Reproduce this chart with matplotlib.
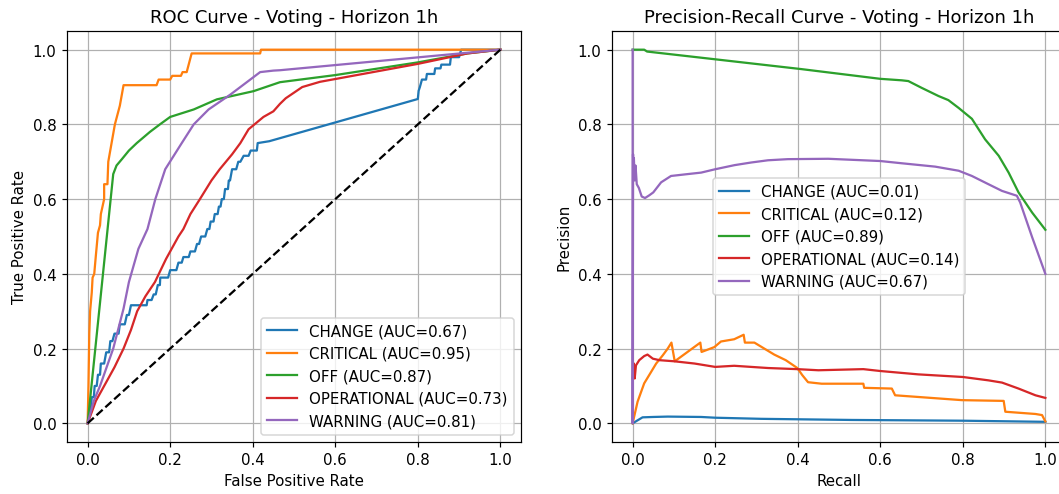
import matplotlib
matplotlib.use("Agg")
import matplotlib.pyplot as plt

classes = ["CHANGE", "CRITICAL", "OFF", "OPERATIONAL", "WARNING"]
roc_auc = [0.67, 0.95, 0.87, 0.73, 0.81]
pr_auc = [0.01, 0.12, 0.89, 0.14, 0.67]

# ---------------- ROC data ----------------
change_fpr = [0, 0.005, 0.008, 0.01, 0.015, 0.017, 0.022, 0.025, 0.03, 0.032, 0.04, 0.045, 0.052, 0.055, 0.06,
              0.065, 0.075, 0.078, 0.09, 0.095, 0.1, 0.105, 0.143, 0.145, 0.155, 0.16, 0.165, 0.17, 0.175, 0.176,
              0.195, 0.2, 0.215, 0.22, 0.228, 0.232, 0.245, 0.249, 0.26, 0.265, 0.27, 0.275, 0.285, 0.29, 0.295,
              0.298, 0.305, 0.308, 0.315, 0.318, 0.322, 0.325, 0.33, 0.333, 0.34, 0.342, 0.345, 0.35, 0.36, 0.365,
              0.37, 0.378, 0.39, 0.395, 0.41, 0.412, 0.44, 0.8, 0.802, 0.805, 0.81, 0.82, 0.822, 0.84, 0.842,
              0.855, 0.857, 0.878, 0.88, 0.9, 0.905, 1.0]
change_tpr = [0, 0.04, 0.04, 0.07, 0.07, 0.1, 0.1, 0.13, 0.13, 0.16, 0.16, 0.19, 0.19, 0.22, 0.22,
              0.24, 0.24, 0.265, 0.265, 0.29, 0.29, 0.316, 0.316, 0.33, 0.33, 0.345, 0.345, 0.37, 0.37, 0.39,
              0.39, 0.41, 0.41, 0.43, 0.43, 0.445, 0.445, 0.46, 0.46, 0.48, 0.48, 0.5, 0.5, 0.52, 0.52,
              0.54, 0.54, 0.56, 0.56, 0.58, 0.58, 0.6, 0.6, 0.627, 0.627, 0.65, 0.65, 0.68, 0.68, 0.7,
              0.7, 0.716, 0.716, 0.73, 0.73, 0.75, 0.755, 0.868, 0.89, 0.9, 0.92, 0.92, 0.935, 0.935, 0.95,
              0.95, 0.96, 0.96, 0.98, 0.98, 1.0, 1.0]

critical_fpr = [0, 0.002, 0.004, 0.006, 0.01, 0.012, 0.016, 0.02, 0.025, 0.03, 0.032, 0.04, 0.04, 0.048, 0.05,
                0.058, 0.066, 0.078, 0.087, 0.167, 0.172, 0.2, 0.205, 0.226, 0.23, 0.24, 0.252, 0.418, 0.42, 1.0]
critical_tpr = [0, 0.1, 0.24, 0.3, 0.35, 0.39, 0.4, 0.45, 0.51, 0.53, 0.56, 0.6, 0.64, 0.64, 0.7,
                0.75, 0.8, 0.85, 0.905, 0.905, 0.92, 0.92, 0.93, 0.93, 0.94, 0.94, 0.99, 0.99, 1.0, 1.0]

off_fpr = [0, 0.062, 0.07, 0.083, 0.1, 0.119, 0.135, 0.151, 0.175, 0.2, 0.257, 0.313, 0.402, 0.466, 0.6, 0.8, 0.92, 1.0]
off_tpr = [0, 0.667, 0.69, 0.707, 0.73, 0.75, 0.765, 0.78, 0.8, 0.82, 0.84, 0.867, 0.889, 0.913, 0.932, 0.966, 0.99, 1.0]

oper_fpr = [0, 0.02, 0.045, 0.065, 0.087, 0.105, 0.12, 0.14, 0.163, 0.19, 0.205, 0.22, 0.232, 0.249, 0.272, 0.3,
            0.32, 0.35, 0.37, 0.39, 0.426, 0.45, 0.466, 0.48, 0.5, 0.52, 0.563, 0.8, 0.92, 1.0]
oper_tpr = [0, 0.06, 0.11, 0.15, 0.2, 0.25, 0.3, 0.34, 0.378, 0.44, 0.47, 0.5, 0.52, 0.56, 0.6, 0.65,
            0.68, 0.72, 0.75, 0.787, 0.82, 0.835, 0.855, 0.87, 0.885, 0.9, 0.914, 0.962, 0.99, 1.0]

warn_fpr = [0, 0.015, 0.03, 0.062, 0.087, 0.1, 0.123, 0.145, 0.164, 0.188, 0.228, 0.257, 0.293, 0.346, 0.394, 0.418, 0.45, 0.466, 1.0]
warn_tpr = [0, 0.06, 0.1, 0.2, 0.307, 0.378, 0.467, 0.52, 0.6, 0.68, 0.75, 0.8, 0.84, 0.88, 0.92, 0.94, 0.944, 0.945, 1.0]

# ---------------- PR data ----------------
change_rec = [0, 0.024, 0.05, 0.085, 0.166, 0.2, 0.312, 0.531, 0.8, 1.0]
change_prec = [0, 0.016, 0.017, 0.018, 0.017, 0.015, 0.012, 0.009, 0.007, 0.004]

critical_rec = [0, 0.012, 0.028, 0.045, 0.057, 0.073, 0.085, 0.094, 0.102, 0.133, 0.164, 0.167, 0.198, 0.214,
                0.246, 0.269, 0.272, 0.295, 0.319, 0.343, 0.371, 0.399, 0.411, 0.425, 0.458, 0.559, 0.561, 0.628,
                0.636, 0.798, 0.899, 0.903, 0.976, 0.992, 1.0]
critical_prec = [0, 0.058, 0.107, 0.138, 0.16, 0.182, 0.2, 0.216, 0.166, 0.191, 0.216, 0.191, 0.204, 0.219,
                 0.225, 0.237, 0.216, 0.216, 0.2, 0.184, 0.169, 0.148, 0.129, 0.11, 0.106, 0.106, 0.095, 0.093,
                 0.075, 0.062, 0.06, 0.031, 0.025, 0.022, 0.005]

off_rec = [0, 0.028, 0.035, 0.409, 0.6, 0.652, 0.668, 0.7, 0.741, 0.765, 0.79, 0.822, 0.854, 0.887, 0.911, 0.935, 0.968, 1.0]
off_prec = [1.0, 1.0, 0.995, 0.948, 0.922, 0.918, 0.916, 0.898, 0.876, 0.865, 0.844, 0.815, 0.76, 0.716, 0.671, 0.618, 0.564, 0.518]

oper_rec = [0, 0.003, 0.005, 0.008, 0.016, 0.028, 0.036, 0.049, 0.065, 0.101, 0.15, 0.2, 0.246, 0.328, 0.399,
            0.45, 0.559, 0.6, 0.692, 0.8, 0.862, 0.895, 0.935, 0.976, 1.0]
oper_prec = [0.12, 0.16, 0.12, 0.155, 0.169, 0.18, 0.184, 0.173, 0.169, 0.166, 0.16, 0.151, 0.154, 0.148, 0.145,
             0.142, 0.145, 0.14, 0.131, 0.124, 0.115, 0.109, 0.093, 0.075, 0.068]

warn_rec = [0, 0, 0.001, 0.002, 0.003, 0.005, 0.007, 0.01, 0.015, 0.022, 0.03, 0.04, 0.05, 0.069, 0.093, 0.133,
            0.166, 0.2, 0.247, 0.287, 0.328, 0.376, 0.474, 0.6, 0.652, 0.733, 0.79, 0.822, 0.862, 0.895, 0.931,
            0.939, 0.968, 1.0]
warn_prec = [1.0, 0, 0.72, 0.66, 0.71, 0.65, 0.69, 0.64, 0.63, 0.607, 0.603, 0.61, 0.618, 0.645, 0.662, 0.667,
             0.671, 0.68, 0.691, 0.698, 0.704, 0.707, 0.708, 0.702, 0.696, 0.687, 0.676, 0.662, 0.64, 0.622, 0.609,
             0.591, 0.498, 0.4]

roc_x = [change_fpr, critical_fpr, off_fpr, oper_fpr, warn_fpr]
roc_y = [change_tpr, critical_tpr, off_tpr, oper_tpr, warn_tpr]
pr_x = [change_rec, critical_rec, off_rec, oper_rec, warn_rec]
pr_y = [change_prec, critical_prec, off_prec, oper_prec, warn_prec]

W, H = 1059, 495
DPI = 108
fig = plt.figure(figsize=(W / DPI, H / DPI), dpi=DPI)
ax1 = fig.add_axes([67 / W, (H - 443) / H, 454 / W, 411 / H])
ax2 = fig.add_axes([612 / W, (H - 443) / H, 454 / W, 411 / H])

for name, auc, x, y in zip(classes, roc_auc, roc_x, roc_y):
    ax1.plot(x, y, label=f"{name} (AUC={auc:.2f})")
ax1.plot([0, 1], [0, 1], "k--")
ax1.set_title("ROC Curve - Voting - Horizon 1h", fontsize=12)
ax1.set_xlabel("False Positive Rate")
ax1.set_ylabel("True Positive Rate")
ax1.legend(loc="lower right")
ax1.grid(True)

for name, auc, x, y in zip(classes, pr_auc, pr_x, pr_y):
    ax2.plot(x, y, label=f"{name} (AUC={auc:.2f})")
ax2.set_title("Precision-Recall Curve - Voting - Horizon 1h", fontsize=12)
ax2.set_xlabel("Recall")
ax2.set_ylabel("Precision")
ax2.legend(loc="center")
ax2.grid(True)

fig.savefig("out.png", dpi=DPI)
